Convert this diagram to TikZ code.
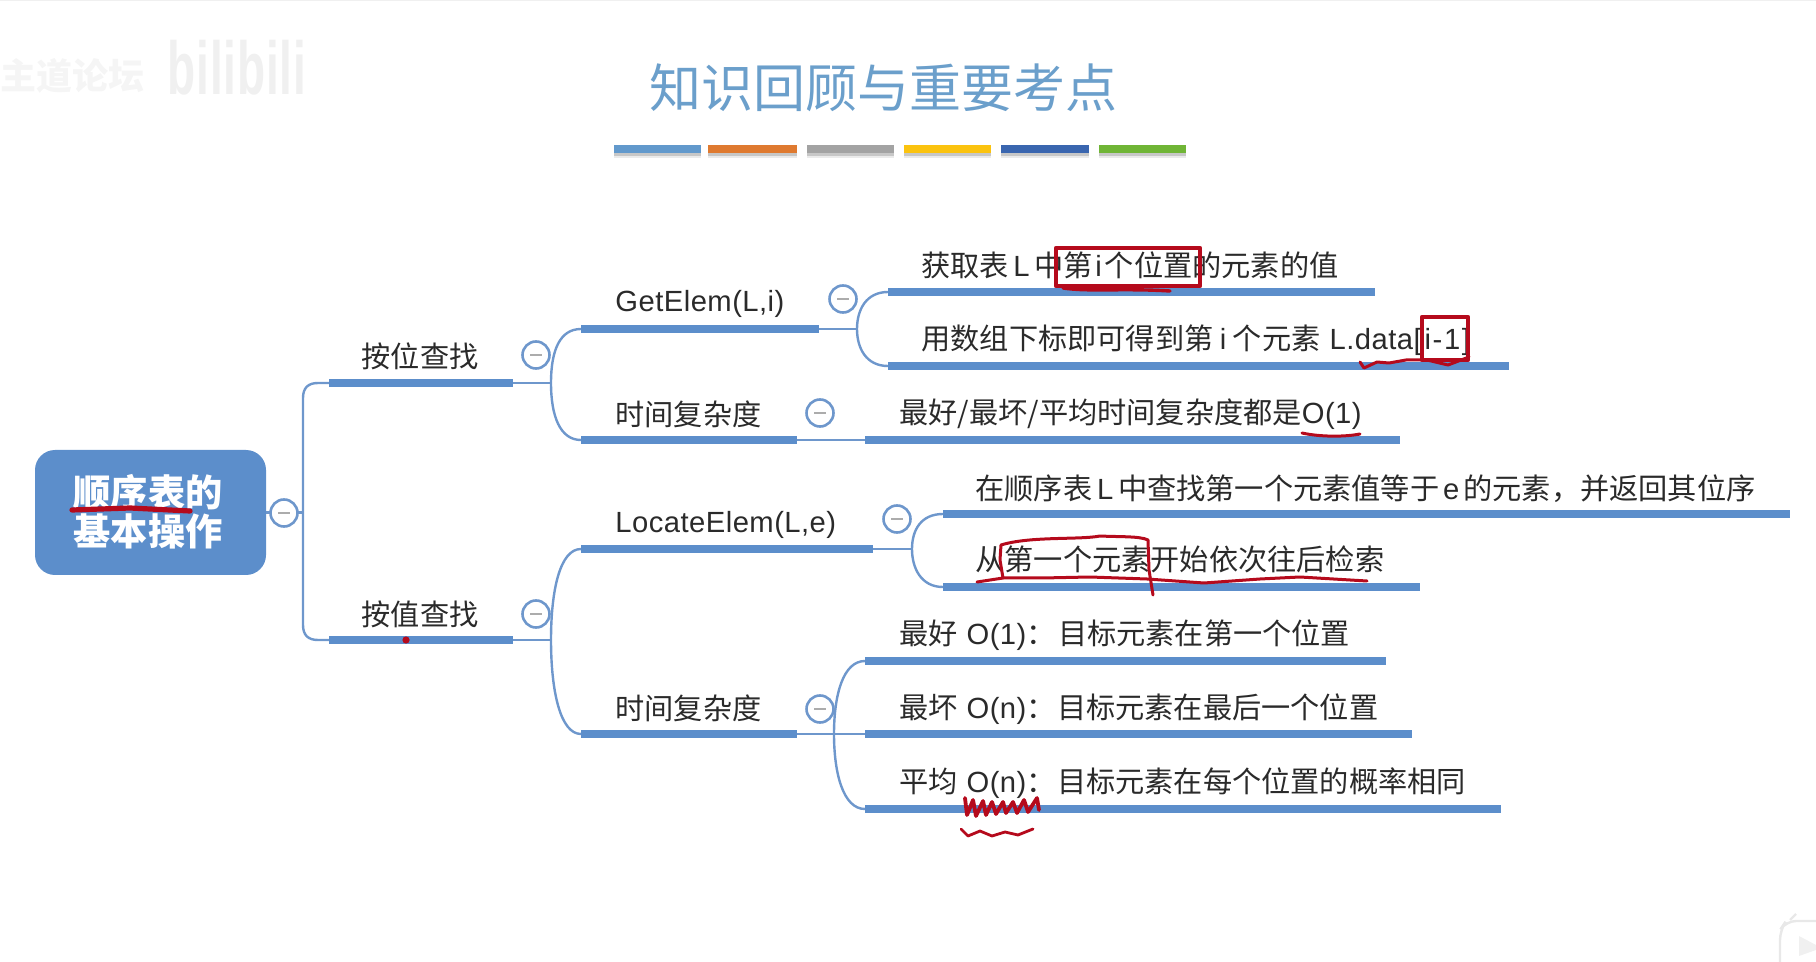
\documentclass[tikz,border=0pt]{standalone}
\usepackage{fontspec}
\setmainfont{Noto Sans CJK SC}
\newfontfamily\lat[LetterSpace=1.6]{Liberation Sans}
\newcommand{\la}[1]{{\lat #1}}
\newcommand{\gp}[1]{\hspace{#1pt}}
\definecolor{barblue}{HTML}{5C8ECB}
\definecolor{linkblue}{HTML}{6E97CC}
\definecolor{titleblue}{HTML}{6B9FCB}
\definecolor{ink}{HTML}{B50A1C}
\definecolor{txt}{HTML}{2A2A2A}
\tikzset{
  branchbar/.style={line width=3.8pt,draw=barblue,line cap=butt},
  link/.style={line width=1.2pt,draw=linkblue},
  toggle/.style={circle,draw=linkblue,line width=1.3pt,fill=white,minimum size=13.5pt,inner sep=0pt},
  lbl/.style={anchor=west,text=txt,font=\fontsize{14.6}{17}\selectfont,inner sep=0pt},
  midlbl/.style={anchor=center,text=txt,font=\fontsize{14.6}{17}\selectfont,inner sep=0pt},
  redline/.style={draw=ink,line width=1.7pt,line cap=round,line join=round},
  colorbar/.style={line width=4pt,line cap=butt},
}
\newcommand{\minus}[1]{\draw[gray!65,line width=1.1pt] ([xshift=-2.8pt]#1.center) -- ([xshift=2.8pt]#1.center);}
\begin{document}
\begin{tikzpicture}[x=0.5pt,y=-0.5pt]
\useasboundingbox (0,0) rectangle (1816,962);
\draw[black!6,line width=0.8pt] (0,0.5) -- (1816,0.5);
% watermark
\node[anchor=center,text=black!4,font=\fontsize{18}{20}\selectfont\bfseries,inner sep=0pt] (wm1) at (73,76) {主道论坛};
\node[anchor=center,text=black!6,font=\fontsize{25}{30}\selectfont\bfseries\lat,inner sep=0pt] (wm2) at (237,68) {\scalebox{.92}[1.5]{bilibili}};
\draw[black!9,line width=1.2pt,rounded corners=5pt] (1816,921) -- (1786,921) -- (1780,930) -- (1780,962);
\draw[black!9,line width=1.2pt] (1790,920) -- (1796,914);
\fill[black!6] (1799,936) -- (1816,945) -- (1816,950) -- (1799,956) -- cycle;
% title
\node[text=titleblue,font=\fontsize{26}{30}\selectfont,inner sep=0pt] (title) at (883,88) {知识回顾与重要考点};
% colour bars
\foreach \a/\b/\c in {614/701/6299CC,708/797/DF7A30,807/894/A3A3A3,904/991/FBC30F,1001/1089/3A66AF,1099/1186/70B536}{
  \definecolor{cb}{HTML}{\c}
  \draw[colorbar,black!8] (\a,154) -- (\b,154);
  \draw[colorbar,black!22] (\a,152) -- (\b,152);
  \draw[colorbar,cb] (\a,149) -- (\b,149);
}
% root
\node[rounded corners=10pt,fill=barblue,minimum width=115.5pt,minimum height=62.5pt,inner sep=0pt] (root) at (150.5,512.5) {};
\node[text=white,inner sep=0pt,align=center,font=\fontsize{18.6}{19.4}\selectfont\bfseries] (roottext) at (148,512) {顺序表的\\基本操作};
% branch end coordinates
\coordinate (a1) at (329,383); \coordinate (a1e) at (513,383);
\coordinate (a2) at (329,640); \coordinate (a2e) at (513,640);
\coordinate (b1) at (581,329); \coordinate (b1e) at (819,329);
\coordinate (b2) at (581,440); \coordinate (b2e) at (797,440);
\coordinate (b3) at (581,549); \coordinate (b3e) at (873,549);
\coordinate (b4) at (581,734); \coordinate (b4e) at (797,734);
\coordinate (c1) at (888,292); \coordinate (c1e) at (1375,292);
\coordinate (c2) at (888,366); \coordinate (c2e) at (1509,366);
\coordinate (c3) at (865,440); \coordinate (c3e) at (1400,440);
\coordinate (c4) at (943,514); \coordinate (c4e) at (1790,514);
\coordinate (c5) at (943,587); \coordinate (c5e) at (1420,587);
\coordinate (c6) at (865,661); \coordinate (c6e) at (1386,661);
\coordinate (c7) at (865,734); \coordinate (c7e) at (1412,734);
\coordinate (c8) at (865,809); \coordinate (c8e) at (1501,809);
% connectors
\draw[link] (root.east) -- (303,512.5);
\draw[link] (a1) -- (318,383) .. controls (308,383) and (303,388) .. (303,398) -- (303,625) .. controls (303,635) and (308,640) .. (318,640) -- (a2);
\draw[link] (a1e) -- (551,383);
\draw[link] (b1) .. controls (560,329) and (551,350) .. (551,383) .. controls (551,416) and (560,440) .. (b2);
\draw[link] (a2e) -- (551,640);
\draw[link] (b3) .. controls (560,549) and (551,590) .. (551,640) .. controls (551,690) and (560,734) .. (b4);
\draw[link] (b1e) -- (857,329);
\draw[link] (c1) .. controls (866,292) and (857,310) .. (857,329) .. controls (857,348) and (866,366) .. (c2);
\draw[link] (b2e) -- (c3);
\draw[link] (b3e) -- (912,549);
\draw[link] (c4) .. controls (921,514) and (912,530) .. (912,549) .. controls (912,568) and (921,587) .. (c5);
\draw[link] (b4e) -- (c7);
\draw[link] (c6) .. controls (843,661) and (834,695) .. (834,734) .. controls (834,773) and (843,809) .. (c8);
% thick bars
\foreach \p in {a1,a2,b1,b2,b3,b4,c1,c2,c3,c4,c5,c6,c7,c8}{ \draw[branchbar] (\p) -- (\p e); }
% toggles
\node[toggle] (t0) at (284,513) {}; \minus{t0}
\node[toggle] (t1) at (536,355) {}; \minus{t1}
\node[toggle] (t2) at (536,614) {}; \minus{t2}
\node[toggle] (t3) at (843,299) {}; \minus{t3}
\node[toggle] (t4) at (820,413) {}; \minus{t4}
\node[toggle] (t5) at (897,519) {}; \minus{t5}
\node[toggle] (t6) at (820,709) {}; \minus{t6}
% labels
\node[midlbl] (l1) at (420,356) {按位查找};
\node[midlbl] (l2) at (420,614) {按值查找};
\node[lbl] (g) at (615,304) {\la{GetElem(L,i)}};
\node[lbl] (s1) at (615,414) {时间复杂度};
\node[lbl] (loc) at (615,525) {\la{LocateElem(L,e)}};
\node[lbl] (s2) at (615,708) {时间复杂度};
\node[lbl] (n1) at (921,265) {获取表\gp{2.2}\la{L}\gp{2.2}中第\gp{1.5}\la{i}\gp{1.5}个位置的元素的值};
\node[lbl] (n2) at (921,340) {用数组下标即可得到第 \la{i} 个元素\gp{4.5}\la{L.data[\gp{1.5}i\gp{.8}-\gp{.8}1\gp{.8}]}};
\node[lbl] (n3) at (899,414) {最好/最坏/平均时间复杂度都是\la{O(1)}};
\node[lbl] (n4) at (975,489) {在顺序表\gp{2.4}\la{L}\gp{2.4}中查找第一个元素值等于\gp{2}\la{e}\gp{2}的元素，并返回其位序};
\node[lbl] (n5) at (975,559) {从第一个元素开始依次往后检索};
\node[lbl] (n6) at (899,635) {最好\gp{4.4}\la{O(1)}：\gp{1.2}目标元素在第一个位置};
\node[lbl] (n7) at (899,709) {最坏\gp{4.4}\la{O(n)}：\gp{.8}目标元素在最后一个位置};
\node[lbl] (n8) at (899,783) {平均\gp{4.4}\la{O(n)}：\gp{.8}目标元素在每个位置的概率相同};
% red annotations
\draw[redline,line width=2.2pt] (1056,248) rectangle (1200,286);
\draw[redline,line width=2.2pt] (1422,317) rectangle (1468,360);
\draw[redline] (1063,288) .. controls (1090,292) and (1120,288) .. (1170,291);
\draw[redline,line width=1.5pt] (1360,362) -- (1364,368) -- (1377,362) -- (1389,363) -- (1406,360) -- (1427,360) -- (1448,365) -- (1469,357);
\draw[redline,line width=1.5pt] (1302,433) .. controls (1320,437) and (1345,437) .. (1360,434);
\draw[redline,line width=2.6pt] (72,510) -- (130,508) -- (190,511);
\fill[ink] (406,640) circle (1.8pt);
\draw[redline,line width=1.5pt] (1003,578) -- (1000,560) -- (1001,545) .. controls (1030,536) and (1080,540) .. (1100,536) .. controls (1120,537) and (1140,536) .. (1148,540) -- (1149,570) -- (1153,595);
\draw[redline,line width=1.5pt] (977,582) -- (1003,578) -- (1042,578) -- (1090,577) -- (1147,579) -- (1204,583) -- (1260,579) -- (1300,577) -- (1367,581);
\draw[redline,line width=1.9pt] (965,798) -- (967,815) -- (973,800) -- (976,816) -- (983,801) -- (986,815) -- (992,802) -- (996,814) -- (1003,802) -- (1006,813) -- (1013,802) -- (1017,813) -- (1024,800) -- (1028,812) -- (1037,798) -- (1039,810);
\draw[redline,line width=1.4pt] (961,829) -- (968,836) -- (980,831) -- (992,836) -- (1005,832) -- (1018,835) -- (1033,829);
\end{tikzpicture}
\end{document}
